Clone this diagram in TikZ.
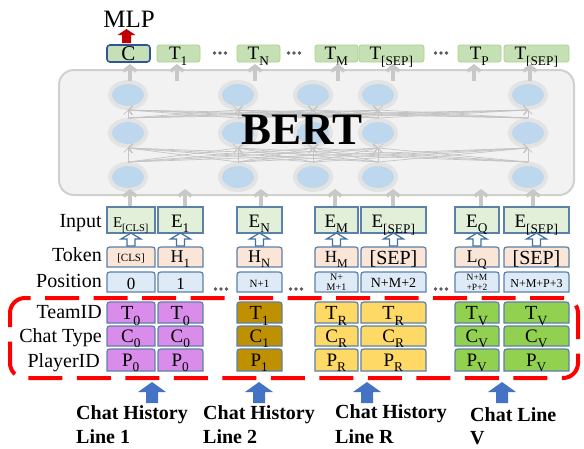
\documentclass[tikz,border=0pt]{standalone}
\usepackage{fontspec}
\setmainfont{Liberation Serif}
\usetikzlibrary{arrows.meta,shapes.geometric}
\definecolor{bertfill}{HTML}{F2F2F2}
\definecolor{bertline}{HTML}{D0D0D0}
\definecolor{halocol}{HTML}{E3E3E3}
\definecolor{ellfill}{HTML}{BDD7EE}
\definecolor{conncol}{HTML}{C4C4C4}
\definecolor{fatcol}{HTML}{C8C8C8}
\definecolor{boxcol}{HTML}{5B80AA}
\definecolor{inputfill}{HTML}{E2F0D9}
\definecolor{tokfill}{HTML}{FBE5D6}
\definecolor{posfill}{HTML}{DEEBF7}
\definecolor{purp}{HTML}{DA8CEB}
\definecolor{brwn}{HTML}{BF9000}
\definecolor{yell}{HTML}{FFD966}
\definecolor{grn}{HTML}{92D050}
\definecolor{tfill}{HTML}{C5E0B4}
\definecolor{tline}{HTML}{A9D18E}
\definecolor{cline}{HTML}{2F5597}
\definecolor{dashred}{HTML}{FF0000}
\definecolor{blueA}{HTML}{4472C4}
\definecolor{mlpred}{HTML}{C00000}
\definecolor{dotcol}{HTML}{595959}
\definecolor{hollowline}{HTML}{41719C}

\newcommand{\rbox}[6]{\node[#6, minimum width={#4pt-#2pt}, minimum height={#5pt-#3pt}, anchor=north west] (#1) at (#2,#3) {};}
\newcommand{\tx}[5]{\node[anchor=base, inner sep=0, font=\fontsize{#4}{#4}\selectfont] (#1) at (#2,#3) {#5};}
\newcommand{\tabshape}[5]{\path[tabst, fill=#5] (#1,#4) -- (#1,#2+6) .. controls (#1,#2) .. (#1+6,#2) -- (#3-6,#2) .. controls (#3,#2) .. (#3,#2+6) -- (#3,#4) -- cycle;}
\newcommand{\harrow}[1]{\path[hollow] (#1-4,246) -- (#1-4,239) -- (#1-10,239) -- (#1,233) -- (#1+10,239) -- (#1+4,239) -- (#1+4,246) -- cycle;}
\newcommand{\barrow}[1]{\fill[blueA] (#1-6,403) -- (#1-6,392) -- (#1-14,392) -- (#1,382) -- (#1+14,392) -- (#1+6,392) -- (#1+6,403) -- cycle;}
\newcommand{\dotz}[2]{\fill[dotcol] (#1-5.5,#2) circle (1.8) (#1,#2) circle (1.8) (#1+5.5,#2) circle (1.8);}
\newcommand{\sbb}[1]{\raisebox{-0.15em}{\textsubscript{#1}}}

\begin{document}
\begin{tikzpicture}[x=1pt,y=-1pt,
  bertbox/.style={draw=bertline, fill=bertfill, line width=2pt, rounded corners=15pt},
  halo/.style={ellipse, draw=halocol, line width=4pt, fill=ellfill, minimum width=36pt, minimum height=26pt, inner sep=0pt},
  conn/.style={draw=conncol, line width=0.7pt, -{Straight Barb[length=4pt,width=9pt]}},
  fat/.style={draw=fatcol, line width=3.5pt, -{Straight Barb[length=5pt,width=13pt]}},
  ibox/.style={draw=boxcol, line width=1.2pt, fill=inputfill, rectangle, inner sep=0pt, outer sep=0pt},
  tbox/.style={draw=tline, line width=0.8pt, fill=tfill, rectangle, rounded corners=2.5pt, inner sep=0pt, outer sep=0pt},
  cbox/.style={draw=cline, line width=1.6pt, fill=tfill, rectangle, rounded corners=3pt, inner sep=0pt, outer sep=0pt},
  tabst/.style={draw=boxcol, line width=1.2pt},
  hollow/.style={draw=hollowline, line width=1.2pt, fill=white},
  lbl/.style={anchor=base east, inner sep=0pt, font=\fontsize{20}{20}\selectfont},
  blbl/.style={anchor=base west, inner sep=0pt, font=\fontsize{20}{20}\selectfont\bfseries},
  reddash/.style={draw=dashred, line width=4pt, dash pattern=on 34pt off 14.5pt, dash phase=20pt, rounded corners=15pt}
]
\useasboundingbox (0,0) rectangle (584,448);

% MLP
\tx{mlp}{129}{27}{25}{MLP}
\fill[mlpred] (122,43) -- (122,35) -- (117.5,35) -- (126.5,29) -- (135.5,35) -- (131,35) -- (131,43) -- cycle;

% output token row
\rbox{tC}{107}{45}{150}{62}{cbox}
\rbox{tT1}{157}{45}{200}{62}{tbox}
\rbox{tTN}{237}{45}{280}{62}{tbox}
\rbox{tTM}{315}{45}{358}{62}{tbox}
\rbox{tTS1}{359}{45}{424}{62}{tbox}
\rbox{tTP}{458}{45}{501}{62}{tbox}
\rbox{tTS2}{504}{45}{569}{62}{tbox}
\tx{tCt}{128.5}{60.5}{21}{C}
\tx{tT1t}{178.5}{59.5}{19}{T\sbb{1}}
\tx{tTNt}{258.5}{59.5}{19}{T\sbb{N}}
\tx{tTMt}{336.5}{59.5}{19}{T\sbb{M}}
\tx{tTS1t}{391.5}{59.5}{19}{T\sbb{[SEP]}}
\tx{tTPt}{479.5}{59.5}{19}{T\sbb{P}}
\tx{tTS2t}{536.5}{59.5}{19}{T\sbb{[SEP]}}
\dotz{220}{53}
\dotz{294}{53}
\dotz{441}{53}

% BERT box
\draw[bertbox] (59,70) rectangle (574,195);
\foreach \r/\yy in {t/95,m/133,b/177}{
  \foreach \c/\xx in {1/128,2/238,3/313,4/378,5/528}{
    \node[halo] (e\r\c) at (\xx,\yy) {};
  }
}
\foreach \i in {1,...,5}{
  \foreach \j in {1,...,5}{
    \draw[conn] (em\i.north) -- (et\j.south);
    \draw[conn] (eb\i.north) -- (em\j.south);
  }
}
\node[anchor=base, inner sep=0pt, font=\fontsize{45}{45}\selectfont\bfseries] (bert) at (302,144) {BERT};

% arrows out of / into BERT
\foreach \xx in {130,177,255,338,393,474,530}{
  \draw[fat] (\xx,81) -- (\xx,64);
}
\foreach \xx in {130,185,261,335,393,481,533}{
  \draw[fat] (\xx,206) -- (\xx,189);
}

% Input row
\rbox{in1}{107}{207}{155}{233}{ibox}
\rbox{in2}{158}{207}{203}{233}{ibox}
\rbox{in3}{237}{207}{282}{233}{ibox}
\rbox{in4}{315}{207}{358}{233}{ibox}
\rbox{in5}{361}{207}{426}{233}{ibox}
\rbox{in6}{455}{207}{499}{233}{ibox}
\rbox{in7}{504}{207}{569}{233}{ibox}
\tx{in1t}{131}{227}{15}{E\sbb{[CLS]}}
\tx{in2t}{180.5}{227}{19}{E\sbb{1}}
\tx{in3t}{259.5}{227}{19}{E\sbb{N}}
\tx{in4t}{336.5}{227}{19}{E\sbb{M}}
\tx{in5t}{393.5}{227}{19}{E\sbb{[SEP]}}
\tx{in6t}{477}{227}{19}{E\sbb{Q}}
\tx{in7t}{536.5}{227}{19}{E\sbb{[SEP]}}

% hollow arrows
\harrow{131}
\harrow{180.5}
\harrow{259.5}
\harrow{336.5}
\harrow{393.5}
\harrow{477}
\harrow{536.5}

% Token row
\tabshape{107}{247}{155}{267}{tokfill}
\tabshape{158}{247}{203}{267}{tokfill}
\tabshape{237}{247}{282}{267}{tokfill}
\tabshape{315}{247}{358}{267}{tokfill}
\tabshape{361}{247}{426}{267}{tokfill}
\tabshape{455}{247}{499}{267}{tokfill}
\tabshape{504}{247}{569}{267}{tokfill}
\tx{tk1}{131}{261}{11}{[CLS]}
\tx{tk2}{180.5}{262.5}{18}{H\sbb{1}}
\tx{tk3}{259.5}{262.5}{18}{H\sbb{N}}
\tx{tk4}{336.5}{262.5}{17}{H\sbb{M}}
\tx{tk5}{393.5}{264}{20}{[SEP]}
\tx{tk6}{477}{262.5}{18}{L\sbb{Q}}
\tx{tk7}{536.5}{264}{20}{[SEP]}

% Position row
\tabshape{107}{272}{155}{292}{posfill}
\tabshape{158}{272}{203}{292}{posfill}
\tabshape{237}{272}{282}{292}{posfill}
\tabshape{315}{272}{358}{292}{posfill}
\tabshape{361}{272}{426}{292}{posfill}
\tabshape{455}{272}{499}{292}{posfill}
\tabshape{504}{272}{569}{292}{posfill}
\tx{ps1}{131}{289}{17}{0}
\tx{ps2}{180.5}{289}{17}{1}
\tx{ps3}{259.5}{287}{11}{N+1}
\tx{ps4a}{336.5}{280}{10}{N+}
\tx{ps4b}{336.5}{290}{10}{M+1}
\tx{ps5}{393.5}{287.5}{14}{N+M+2}
\tx{ps6a}{477}{280}{9.5}{N+M}
\tx{ps6b}{477}{290}{9.5}{+P+2}
\tx{ps7}{536.5}{287}{12}{N+M+P+3}
\dotz{221}{289}
\dotz{296}{289}
\dotz{441}{289}

% lower embedding rows
\foreach \xa/\xb/\col in {107/155/purp,158/203/purp,237/282/brwn,315/358/yell,361/426/yell,455/499/grn,504/569/grn}{
  \tabshape{\xa}{302}{\xb}{323}{\col}
  \tabshape{\xa}{326}{\xb}{346}{\col}
  \tabshape{\xa}{349}{\xb}{371}{\col}
}
\tx{tm1}{131}{319}{20}{T\sbb{0}}
\tx{tm2}{180.5}{319}{20}{T\sbb{0}}
\tx{tm3}{259.5}{319}{20}{T\sbb{1}}
\tx{tm4}{336.5}{319}{20}{T\sbb{R}}
\tx{tm5}{393.5}{319}{20}{T\sbb{R}}
\tx{tm6}{477}{319}{20}{T\sbb{V}}
\tx{tm7}{536.5}{319}{20}{T\sbb{V}}
\tx{ct1}{131}{342}{19}{C\sbb{0}}
\tx{ct2}{180.5}{342}{19}{C\sbb{0}}
\tx{ct3}{259.5}{342}{19}{C\sbb{1}}
\tx{ct4}{336.5}{342}{19}{C\sbb{R}}
\tx{ct5}{393.5}{342}{19}{C\sbb{R}}
\tx{ct6}{477}{342}{19}{C\sbb{V}}
\tx{ct7}{536.5}{342}{19}{C\sbb{V}}
\tx{pl1}{131}{366}{19}{P\sbb{0}}
\tx{pl2}{180.5}{366}{19}{P\sbb{0}}
\tx{pl3}{259.5}{366}{19}{P\sbb{1}}
\tx{pl4}{336.5}{366}{19}{P\sbb{R}}
\tx{pl5}{393.5}{366}{19}{P\sbb{R}}
\tx{pl6}{477}{366}{19}{P\sbb{V}}
\tx{pl7}{536.5}{366}{19}{P\sbb{V}}

% left labels
\node[lbl] (lInput) at (102,227) {Input};
\node[lbl] (lToken) at (102,261) {Token};
\node[lbl] (lPos) at (102,287) {Position};
\node[lbl] (lTeam) at (102,318) {TeamID};
\node[lbl] (lChat) at (102,342) {Chat Type};
\node[lbl] (lPlay) at (100,367) {PlayerID};

% red dashed group
\draw[reddash] (10,298) rectangle (578,378);

% blue arrows
\barrow{152}
\barrow{259}
\barrow{367}
\barrow{502}

% bottom labels
\node[blbl] (b1a) at (76,419) {Chat History};
\node[blbl] (b1b) at (76,443) {Line 1};
\node[blbl] (b2a) at (203,419) {Chat History};
\node[blbl] (b2b) at (203,443) {Line 2};
\node[blbl] (b3a) at (335,418) {Chat History};
\node[blbl] (b3b) at (335,443) {Line R};
\node[blbl] (b4a) at (470,421) {Chat Line};
\node[blbl] (b4b) at (470,444) {V};
\end{tikzpicture}
\end{document}
